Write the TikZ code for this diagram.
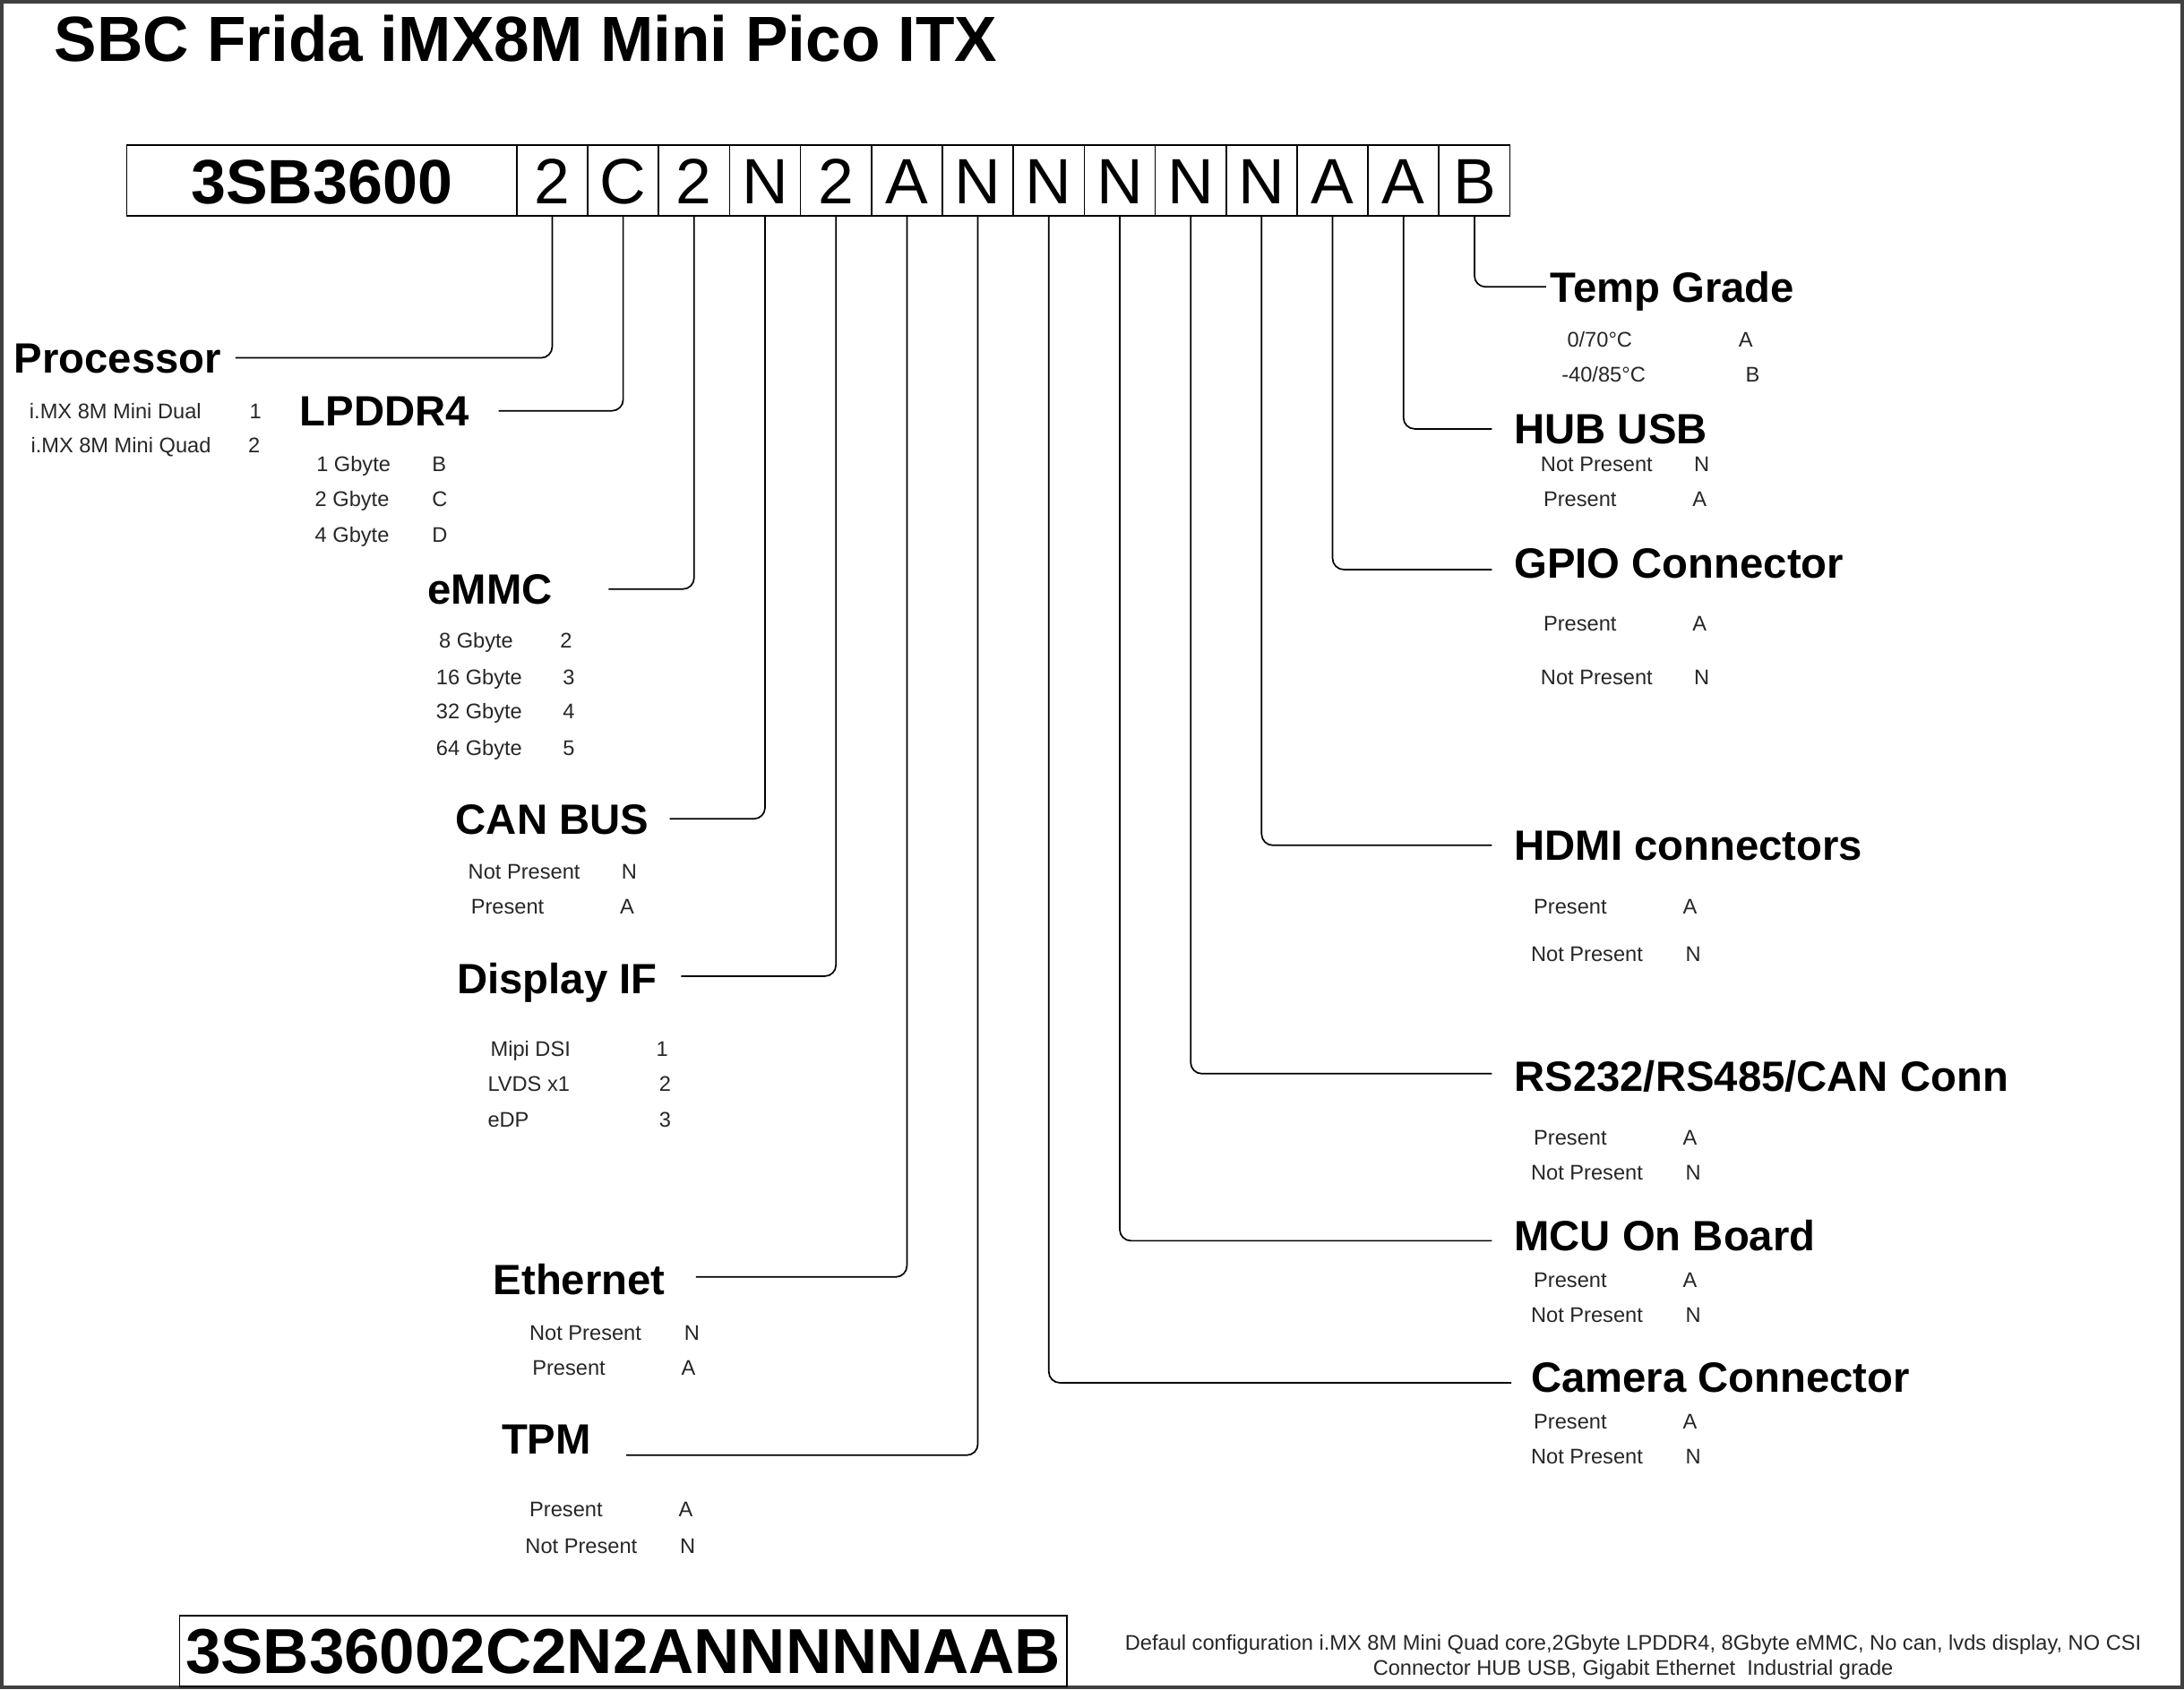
\documentclass[tikz,border=0pt]{standalone}
\usepackage{fontspec}
\setmainfont{Liberation Sans}
\usetikzlibrary{positioning}
\definecolor{framec}{HTML}{404040}
\definecolor{optc}{HTML}{262626}
\tikzset{
  cell/.style={draw, line width=1.1pt, outer sep=0pt, inner sep=0pt, minimum width=50.93pt, minimum height=51pt, font=\fontsize{46}{46}\selectfont, text height=33pt, text depth=0pt},
  headcell/.style={cell, minimum width=280pt, font=\bfseries\fontsize{45}{45}\selectfont},
  head/.style={anchor=west, inner sep=0pt, font=\bfseries\fontsize{30.4}{30.4}\selectfont, text height=21.7pt, text depth=0pt},
  opt/.style={anchor=west, inner sep=0pt, text=optc, font=\fontsize{15.2}{15.2}\selectfont, text height=10.8pt, text depth=0pt},
  leader/.style={line width=1.1pt, rounded corners=8pt},
}
% one option line: name, x text, x value, y, text, value
\newcommand{\optrow}[6]{%
  \node[opt] (#1) at (#2,#4) {#5};
  \node[opt] (#1v) at (#3,#4) {#6};}

\begin{document}
\begin{tikzpicture}[x=1pt, y=-1pt]
  \useasboundingbox (0,0) rectangle (1568,1213);
  \draw[framec, line width=2.5pt] (1.25,1.25) rectangle (1566.75,1211.75);
  \node[anchor=base west, inner sep=0pt, font=\bfseries\fontsize{45.8}{45.8}\selectfont] (title) at (39,44) {SBC Frida iMX8M Mini Pico ITX};
  % part number
  \node[headcell] (c0) at (231,129.5) {3SB3600};
  \foreach \ch [count=\i] in {2,C,2,N,2,A,N,N,N,N,N,A,A,B}
    \node[cell] (c\i) at ({371+50.93*(\i-0.5)},129.5) {\ch};
  % left fields
  \node[head] (proc) at (10,257) {Processor};
  \node[head] (lpddr) at (215,295) {LPDDR4};
  \node[head] (emmc) at (307,423) {eMMC};
  \node[head] (can) at (327,588) {CAN BUS};
  \node[head] (disp) at (328,703) {Display IF};
  \node[head] (eth) at (354,919) {Ethernet};
  \node[head] (tpm) at (360,1033) {TPM};
  % right fields
  \node[head] (temp) at (1113,206) {Temp Grade};
  \node[head] (hub) at (1087,308) {HUB USB};
  \node[head] (gpio) at (1087,404) {GPIO Connector};
  \node[head] (hdmi) at (1087,607) {HDMI connectors};
  \node[head] (rs) at (1087,773) {RS232/RS485/CAN Conn};
  \node[head] (mcu) at (1087,887) {MCU On Board};
  \node[head] (cam) at (1099,989) {Camera Connector};
  % leaders
  \draw[leader] (c1.south) |- ([xshift=10pt]proc.east);
  \draw[leader] (c2.south) |- ([xshift=21pt]lpddr.east);
  \draw[leader] (c3.south) |- ([xshift=40pt]emmc.east);
  \draw[leader] (c4.south) |- ([xshift=15pt]can.east);
  \draw[leader] (c5.south) |- ([xshift=17pt,yshift=2pt]disp.east);
  \draw[leader] (c6.south) |- ([xshift=22pt,yshift=2pt]eth.east);
  \draw[leader] (c7.south) |- ([xshift=25pt,yshift=-12pt]tpm.east);
  \draw[leader] (c8.south) |- ([xshift=-14pt,yshift=-4pt]cam.west);
  \draw[leader] (c9.south) |- ([xshift=-16pt,yshift=-4pt]mcu.west);
  \draw[leader] (c10.south) |- ([xshift=-16pt,yshift=2pt]rs.west);
  \draw[leader] (c11.south) |- ([xshift=-16pt]hdmi.west);
  \draw[leader] (c12.south) |- ([xshift=-16pt,yshift=-5pt]gpio.west);
  \draw[leader] (c13.south) |- ([xshift=-16pt]hub.west);
  \draw[leader] (c14.south) |- ([xshift=-3pt]temp.west);
  % options
  \optrow{procA}{21}{179}{295}{i.MX 8M Mini Dual}{1}
  \optrow{procB}{22}{178}{320}{i.MX 8M Mini Quad}{2}
  \optrow{memA}{227}{310}{333}{1 Gbyte}{B}
  \optrow{memB}{226}{310}{358}{2 Gbyte}{C}
  \optrow{memC}{226}{310}{384}{4 Gbyte}{D}
  \optrow{emA}{315}{402}{460}{8 Gbyte}{2}
  \optrow{emB}{313}{404}{486}{16 Gbyte}{3}
  \optrow{emC}{313}{404}{511}{32 Gbyte}{4}
  \optrow{emD}{313}{404}{537}{64 Gbyte}{5}
  \optrow{canA}{336}{446}{626}{Not Present}{N}
  \optrow{canB}{338}{445}{651}{Present}{A}
  \optrow{dispA}{352}{471}{753}{Mipi DSI}{1}
  \optrow{dispB}{350}{473}{778}{LVDS x1}{2}
  \optrow{dispC}{350}{473}{804}{eDP}{3}
  \optrow{ethA}{380}{491}{957}{Not Present}{N}
  \optrow{ethB}{382}{489}{982}{Present}{A}
  \optrow{tpmA}{380}{487}{1084}{Present}{A}
  \optrow{tpmB}{377}{488}{1110}{Not Present}{N}
  \optrow{tempA}{1125}{1248}{244}{0/70°C}{A}
  \optrow{tempB}{1121}{1253}{269}{-40/85°C}{B}
  \optrow{hubA}{1106}{1216}{333}{Not Present}{N}
  \optrow{hubB}{1108}{1215}{358}{Present}{A}
  \optrow{gpioA}{1108}{1215}{448}{Present}{A}
  \optrow{gpioB}{1106}{1216}{486}{Not Present}{N}
  \optrow{hdmiA}{1101}{1208}{651}{Present}{A}
  \optrow{hdmiB}{1099}{1210}{685}{Not Present}{N}
  \optrow{rsA}{1101}{1208}{817}{Present}{A}
  \optrow{rsB}{1099}{1210}{842}{Not Present}{N}
  \optrow{mcuA}{1101}{1208}{919}{Present}{A}
  \optrow{mcuB}{1099}{1210}{944}{Not Present}{N}
  \optrow{camA}{1101}{1208}{1021}{Present}{A}
  \optrow{camB}{1099}{1210}{1046}{Not Present}{N}
  % default code
  \node[draw, line width=1.1pt, minimum width=637pt, minimum height=51pt, inner sep=0pt, font=\bfseries\fontsize{45.6}{45.6}\selectfont, text height=33pt, text depth=0pt] (code) at (447.5,1185.5) {3SB36002C2N2ANNNNNAAB};
  \node[align=center, inner sep=0pt, text=optc, font=\fontsize{15.2}{18}\selectfont] (note) at (1172.5,1190) {Defaul configuration i.MX 8M Mini Quad core,2Gbyte LPDDR4, 8Gbyte eMMC, No can, lvds display, NO CSI\\Connector HUB USB, Gigabit Ethernet\ \ Industrial grade};
\end{tikzpicture}
\end{document}
